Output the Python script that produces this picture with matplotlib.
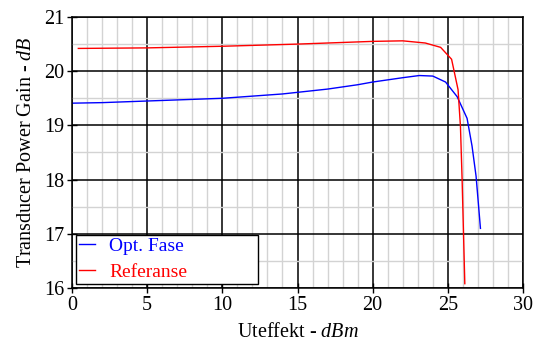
import matplotlib
matplotlib.use("Agg")
import matplotlib.pyplot as plt
from matplotlib.ticker import MultipleLocator

opt_x = [0, 2, 4, 6, 8, 10, 12, 14, 15, 16, 17, 18, 19, 20, 21, 22, 23.1, 24.0, 24.85, 25.62, 26.28, 26.61, 26.88, 27.17]
opt_y = [19.41, 19.42, 19.44, 19.46, 19.48, 19.50, 19.54, 19.58, 19.61, 19.64, 19.67, 19.71, 19.75, 19.80, 19.84, 19.88, 19.92, 19.91, 19.80, 19.53, 19.13, 18.62, 18.06, 17.10]

ref_x = [0.42, 5, 10, 15, 20, 22.0, 23.5, 24.52, 25.25, 25.68, 25.84, 25.95, 26.13]
ref_y = [20.42, 20.43, 20.46, 20.50, 20.55, 20.56, 20.52, 20.44, 20.22, 19.66, 18.98, 18.00, 16.08]

labels = ["Opt. Fase", "Referanse"]
colors = ["#0000ff", "#ff0000"]

plt.rcParams['font.family'] = ['Liberation Serif', 'DejaVu Serif']
plt.rcParams['mathtext.fontset'] = 'custom'
plt.rcParams['mathtext.it'] = 'Liberation Serif:italic'
plt.rcParams['mathtext.rm'] = 'Liberation Serif'

fig = plt.figure(figsize=(5.39, 3.46), dpi=100)
ax = fig.add_axes([0.1336, 0.1676, 0.8367, 0.7833])

ax.plot(opt_x, opt_y, color=colors[0], lw=1.0, label=labels[0])
ax.plot(ref_x, ref_y, color=colors[1], lw=1.0, label=labels[1])

ax.set_xlim(0, 30)
ax.set_ylim(16, 21)
ax.xaxis.set_major_locator(MultipleLocator(5))
ax.xaxis.set_minor_locator(MultipleLocator(1))
ax.yaxis.set_major_locator(MultipleLocator(1))
ax.yaxis.set_minor_locator(MultipleLocator(0.5))
ax.grid(which='minor', color='#d3d3d3', lw=1.0)
ax.grid(which='major', color='black', lw=1.1)
ax.set_axisbelow(True)
ax.tick_params(which='major', direction='inout', length=7, width=1, labelsize=14.5, pad=2)
ax.tick_params(which='minor', length=0)
for s in ax.spines.values():
    s.set_linewidth(1.1)
    s.set_color('black')

ax.set_xlabel("Uteffekt - $dBm$", fontsize=14.5, labelpad=6)
ax.set_ylabel("Transducer Power Gain - $dB$", fontsize=14.5, labelpad=6)

leg = ax.legend(loc='lower left', bbox_to_anchor=(0.009, 0.015, 0.404, 0.18), mode='expand',
                borderaxespad=0, fancybox=False, framealpha=1, edgecolor='black',
                handlelength=0.8, handletextpad=0.75, fontsize=14, labelspacing=0.42,
                borderpad=0.15)
leg.get_frame().set_linewidth(1.0)
for t, c in zip(leg.get_texts(), colors):
    t.set_color(c)

fig.savefig("out.png", dpi=100)
